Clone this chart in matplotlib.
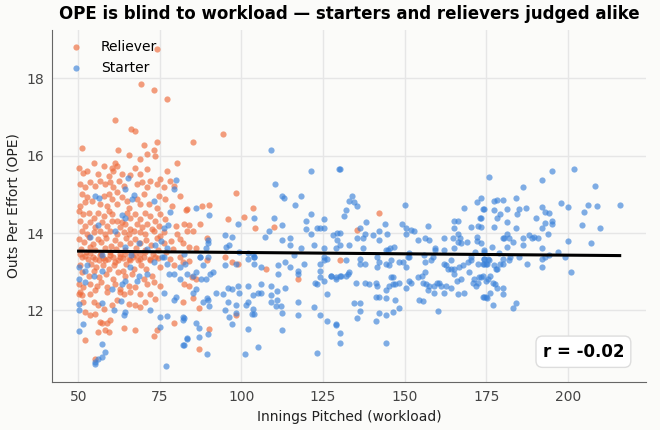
import numpy as np
import matplotlib
matplotlib.use("Agg")
import matplotlib.pyplot as plt

# (innings pitched, OPE)
relievers = [
    (74.2, 18.75), (69.3, 17.85), (73.3, 17.7), (77.3, 17.46), (61.3, 16.92), (66.3, 16.69),
    (67.5, 16.64), (70.2, 16.28), (74.2, 16.36), (73.3, 16.15), (62.3, 16.15), (51.2, 16.2),
    (94.2, 16.56), (85.3, 16.36), (71.1, 16.04), (73.6, 15.99), (65.4, 16.02), (80.3, 15.8),
    (69.0, 15.91),
    (50.1, 15.69), (52.7, 15.61), (54.7, 15.8), (57.8, 15.74), (60.3, 15.69), (61.3, 15.82),
    (62.0, 15.74), (67.5, 15.69), (71.1, 15.66), (77.2, 15.61), (51.6, 15.56), (59.3, 15.48),
    (60.8, 15.61), (63.4, 15.52), (65.9, 15.5), (69.0, 15.54), (72.1, 15.35), (75.2, 15.39),
    (78.2, 15.35), (56.2, 15.52),
    (50.6, 15.26), (52.1, 15.18), (53.7, 15.31), (55.2, 15.22), (56.7, 15.35), (58.3, 15.26),
    (59.8, 15.31), (60.8, 15.18), (62.4, 15.35), (63.9, 15.22), (68.0, 15.26), (69.5, 15.31),
    (71.1, 15.18), (74.1, 15.26), (76.2, 15.18), (79.2, 15.22), (51.1, 15.01), (52.7, 14.92),
    (54.2, 14.83), (57.8, 14.96), (59.3, 15.01), (60.3, 14.88), (61.9, 15.05), (63.4, 14.92),
    (64.9, 14.83), (68.0, 14.88), (70.0, 15.01), (71.6, 14.75), (74.6, 14.96), (76.7, 14.88),
    (81.3, 14.96), (83.3, 14.62), (50.6, 14.71), (52.1, 14.79), (56.7, 14.75), (58.8, 14.71),
    (61.9, 14.75), (65.4, 14.66), (69.0, 14.75), (74.1, 14.66), (78.7, 14.71),
    (50.1, 14.58), (51.6, 14.49), (53.2, 14.53), (54.7, 14.4), (56.2, 14.53), (57.8, 14.45),
    (59.3, 14.58), (60.3, 14.49), (61.9, 14.32), (63.4, 14.28), (64.9, 14.53), (66.0, 14.4),
    (67.5, 14.49), (69.0, 14.36), (70.6, 14.53), (72.1, 14.45), (73.6, 14.32), (75.2, 14.49),
    (76.7, 14.36), (50.6, 14.32), (52.1, 14.19), (53.7, 14.28), (55.2, 14.15), (57.3, 14.28),
    (58.8, 14.19), (60.3, 14.32), (62.9, 14.15), (64.4, 14.23), (66.0, 14.1), (68.0, 14.23),
    (69.5, 14.15), (71.1, 14.23), (72.6, 14.1), (74.6, 14.19), (76.2, 14.02), (79.8, 14.19),
    (82.3, 14.23), (51.1, 14.06), (52.7, 13.97), (54.7, 14.02), (56.7, 14.06), (58.3, 13.97),
    (59.8, 14.06), (61.9, 13.97), (63.9, 14.02), (65.4, 13.97), (67.0, 14.06), (69.0, 14.02),
    (70.6, 13.97), (73.1, 14.06), (75.2, 13.93), (80.3, 13.97), (83.3, 14.06),
    (50.3, 13.85), (51.8, 13.76), (53.2, 13.89), (54.5, 13.72), (55.9, 13.84), (57.1, 13.77),
    (58.6, 13.86), (59.9, 13.67), (61.2, 13.81), (62.7, 13.71), (64.5, 13.87), (65.8, 13.75),
    (67.3, 13.84), (68.9, 13.73), (70.7, 13.81), (72.3, 13.7), (74.0, 13.86), (76.4, 13.75),
    (78.5, 13.8), (81.3, 13.85),
    (50.8, 13.59), (52.3, 13.51), (53.5, 13.64), (55.0, 13.55), (56.9, 13.47), (58.1, 13.6),
    (59.6, 13.52), (61.5, 13.58), (62.8, 13.45), (64.2, 13.56), (66.2, 13.49), (67.7, 13.6),
    (68.8, 13.46), (70.4, 13.55), (72.8, 13.47), (74.4, 13.56), (76.9, 13.51), (79.0, 13.59),
    (83.8, 13.63),
    (51.3, 13.37), (52.9, 13.32), (54.4, 13.38), (56.4, 13.3), (57.6, 13.36), (59.1, 13.34),
    (60.6, 13.38), (62.2, 13.29), (63.7, 13.36), (65.6, 13.33), (66.8, 13.38), (68.3, 13.31),
    (70.2, 13.37), (71.9, 13.32), (74.3, 13.36), (78.0, 13.33), (81.1, 13.37),
    (50.6, 13.46), (52.1, 13.4), (53.7, 13.48), (55.2, 13.33), (56.7, 13.44), (58.3, 13.29),
    (59.8, 13.42), (61.3, 13.25), (62.9, 13.39), (64.4, 13.46), (66.0, 13.29), (67.5, 13.42),
    (69.0, 13.33), (70.6, 13.5), (72.1, 13.29), (73.6, 13.37),
    (50.4, 13.16), (53.9, 13.2), (55.5, 13.12), (57.6, 13.16), (59.5, 13.07), (61.1, 13.16),
    (63.6, 13.03), (64.7, 13.2), (67.2, 13.07), (69.2, 13.16), (70.9, 13.07), (75.0, 13.12),
    (79.2, 13.16), (51.1, 12.99), (53.2, 12.9), (54.9, 13.03), (56.5, 12.86), (58.6, 12.94),
    (60.5, 12.82), (62.1, 12.99), (64.2, 12.9), (66.5, 12.94), (70.0, 12.82), (72.6, 12.9),
    (50.1, 12.69), (51.6, 12.6), (53.5, 12.69), (55.7, 12.64), (57.1, 12.73), (58.8, 12.6),
    (61.3, 12.69), (62.7, 12.56), (65.4, 12.64), (67.5, 12.6), (71.1, 12.69), (73.1, 12.73),
    (75.2, 12.64), (82.3, 12.69), (50.6, 12.47), (55.2, 12.52), (58.8, 12.47), (62.9, 12.47),
    (66.0, 12.47), (69.0, 12.43),
    (50.1, 12.43), (51.1, 12.4), (51.6, 12.21), (53.7, 12.43), (54.7, 12.21), (56.2, 12.13),
    (57.8, 12.04), (60.3, 12.13), (61.9, 12.26), (63.9, 12.43), (65.4, 12.17), (67.5, 12.13),
    (69.0, 12.09), (70.6, 12.21), (72.1, 12.43), (73.6, 12.3), (52.1, 11.96), (53.7, 11.87),
    (55.2, 11.91), (56.7, 11.7), (58.8, 11.66), (59.8, 11.74), (56.2, 11.44), (57.3, 11.67),
    (58.3, 11.48), (59.3, 11.44), (63.9, 11.53), (67.5, 11.48), (74.1, 11.48), (73.1, 11.33),
    (79.2, 11.66), (52.1, 11.23), (55.0, 10.74),
    (98.2, 15.04), (83.1, 14.6), (88.0, 14.7), (90.2, 14.73), (103.4, 14.65), (96.0, 14.35),
    (100.9, 14.42), (84.0, 14.2), (87.4, 14.24), (104.3, 14.14), (110.1, 14.16), (85.3, 14.06),
    (89.3, 13.88), (82.2, 13.73), (86.2, 13.62), (82.2, 13.24), (84.0, 13.27), (89.3, 13.31),
    (95.1, 13.37), (97.2, 13.24), (99.1, 13.21), (107.4, 13.08), (117.2, 12.82), (84.7, 12.85),
    (86.0, 12.82), (84.0, 12.64), (85.3, 12.31), (82.2, 12.21), (87.1, 12.05), (98.2, 11.87),
    (90.2, 11.51), (87.1, 11.0), (142.0, 14.53), (135.3, 14.09), (130.1, 13.29),
]

starters = [
    # 50-90 innings, mixed in with the relievers
    (65.1, 15.42), (80.1, 15.37), (79.2, 15.14), (55.2, 14.96), (56.5, 14.9), (64.2, 15.14),
    (67.2, 14.99), (66.5, 14.88), (73.3, 14.84), (78.2, 14.55), (63.4, 14.47), (64.2, 14.39),
    (56.2, 14.21), (61.3, 14.06), (53.5, 13.89), (68.5, 13.73), (71.1, 13.59), (73.6, 13.68),
    (75.4, 13.79), (76.4, 14.13), (77.4, 14.22), (77.2, 13.62), (82.3, 13.46), (64.4, 13.63),
    (57.3, 13.42), (66.2, 13.42), (75.7, 13.39),
    (50.1, 13.12), (52.1, 13.03), (52.7, 13.16), (50.1, 12.82), (52.1, 12.73), (54.7, 12.9),
    (57.3, 13.03), (60.3, 12.56), (63.4, 12.69), (64.4, 12.77), (66.0, 13.12), (68.5, 12.9),
    (68.0, 12.77), (71.1, 12.95), (73.1, 13.24), (76.2, 13.37), (77.2, 13.2), (77.7, 12.95),
    (79.2, 12.95), (82.8, 13.2),
    (50.1, 12.0), (50.1, 11.46), (51.4, 11.64), (57.3, 11.12), (58.3, 10.93), (57.3, 10.78),
    (55.2, 10.67), (55.2, 10.61), (56.2, 10.73), (77.0, 10.56), (82.3, 11.1), (83.3, 11.27),
    (75.2, 11.57), (77.2, 11.85), (75.2, 11.83), (82.3, 11.79), (79.2, 12.26), (79.8, 12.34),
    (76.2, 12.45), (72.1, 12.0), (63.9, 11.87), (64.4, 11.96), (61.0, 12.0), (63.2, 12.24),
    (57.3, 12.19), (50.1, 12.17),
    # 80-130 innings
    (109.2, 16.15), (121.2, 15.6), (129.8, 15.66), (110.4, 15.27), (112.3, 14.96), (112.9, 14.91),
    (118.1, 14.96), (116.3, 14.73), (86.2, 14.65), (90.2, 14.47), (121.2, 14.5), (104.0, 14.4),
    (110.1, 14.4), (119.9, 14.32), (125.2, 14.35), (99.1, 14.24), (112.3, 14.2), (108.3, 14.06),
    (119.9, 14.11), (121.2, 13.98), (123.3, 14.14), (124.2, 14.14), (125.2, 14.14), (95.1, 13.96),
    (97.2, 13.91), (107.1, 13.91), (112.3, 13.83), (115.0, 13.88), (128.2, 13.96), (129.4, 14.01),
    (89.9, 13.83), (89.9, 13.73), (95.4, 13.65), (96.3, 13.68), (115.0, 13.68), (118.1, 13.62),
    (122.1, 13.68), (125.2, 13.62), (129.1, 13.6), (89.0, 13.6), (99.4, 13.52), (102.1, 13.49),
    (103.4, 13.47), (104.0, 13.39), (87.4, 13.37), (116.0, 13.42), (125.2, 13.37),
    (81.3, 13.11), (81.3, 12.82), (88.3, 13.16), (89.9, 13.37), (87.4, 13.37), (95.1, 13.16),
    (98.2, 13.19), (102.1, 13.34), (103.7, 13.39), (104.0, 13.21), (106.1, 13.13), (111.3, 13.16),
    (113.2, 13.24), (115.0, 13.13), (111.3, 12.95), (117.2, 13.03), (117.2, 12.95), (119.3, 13.21),
    (124.2, 13.21), (125.2, 13.29), (126.1, 13.34), (124.2, 13.03), (124.2, 12.85), (125.2, 12.77),
    (127.3, 12.88), (129.1, 12.85), (130.1, 12.9), (122.4, 12.7), (123.3, 12.67),
    (83.4, 12.93), (85.3, 12.88), (86.2, 12.98), (87.7, 12.8), (89.0, 12.82), (90.5, 12.95),
    (91.4, 13.0), (85.3, 12.46), (86.2, 12.54), (88.3, 12.21), (89.3, 12.31), (89.9, 12.26),
    (90.2, 12.1), (92.3, 12.44), (94.2, 12.41), (96.0, 12.59), (97.2, 12.54), (99.4, 12.44),
    (99.1, 12.64), (96.0, 12.21), (95.1, 12.0), (98.2, 12.13), (98.2, 11.92), (96.3, 11.82),
    (97.2, 11.64), (102.1, 12.62), (103.4, 12.39), (105.2, 12.46), (106.1, 12.67), (106.1, 12.44),
    (102.1, 12.21), (101.5, 12.15), (103.4, 12.03), (103.1, 11.9), (104.0, 11.9), (102.1, 11.51),
    (105.2, 11.05), (101.2, 10.87), (109.2, 12.64), (109.2, 12.39), (109.2, 12.21), (111.0, 12.49),
    (111.0, 12.26), (112.0, 12.1), (110.7, 12.1), (112.3, 11.92), (113.2, 12.59), (112.3, 11.48),
    (117.2, 12.21), (117.2, 11.87), (122.1, 12.08), (124.2, 11.87), (126.1, 12.41), (126.1, 11.72),
    (129.1, 11.61), (123.3, 10.89), (130.1, 11.41), (82.2, 11.82), (82.2, 11.74), (86.2, 11.66),
    (87.1, 11.54), (83.4, 11.28), (82.2, 11.1), (87.1, 11.3), (89.9, 11.38), (89.3, 10.87),
    # 130-175 innings
    (130.1, 15.66), (175.8, 15.45), (134.0, 14.96), (133.1, 14.84), (134.4, 14.81), (135.3, 14.71),
    (131.9, 14.6), (131.3, 14.45), (150.0, 14.73), (168.1, 14.65), (172.1, 14.81), (173.3, 14.91),
    (173.9, 14.63), (173.0, 14.4), (172.4, 14.19), (172.1, 13.91), (138.3, 14.29), (136.2, 14.14),
    (138.0, 13.98), (137.1, 13.88), (135.3, 13.88), (140.2, 13.96), (142.0, 14.06), (143.9, 14.24),
    (144.5, 13.98), (142.0, 13.83), (133.1, 13.7), (129.4, 13.83), (130.1, 14.01), (137.1, 13.6),
    (130.1, 13.68), (149.1, 14.24), (150.3, 14.14), (150.3, 13.98), (152.1, 14.09), (152.8, 14.04),
    (154.0, 13.83), (156.1, 13.86), (157.4, 13.83), (157.1, 14.19), (159.2, 13.62), (159.2, 13.55),
    (162.0, 13.88), (164.7, 13.88), (165.0, 14.14), (166.3, 14.32), (165.0, 14.32), (166.3, 13.98),
    (166.9, 13.88), (166.3, 13.78), (167.2, 13.73), (169.0, 13.78), (170.2, 14.16), (172.1, 13.8),
    (171.5, 13.52), (174.2, 13.52), (165.0, 13.62), (162.0, 13.55), (146.6, 13.65), (145.4, 13.6),
    (144.8, 13.57), (144.2, 13.55), (151.2, 13.49), (150.9, 13.37), (155.8, 13.42), (158.6, 13.37),
    (170.2, 13.37), (174.2, 13.34),
    (142.3, 13.24), (131.9, 13.31), (136.2, 13.34), (136.2, 13.21), (138.0, 13.19), (141.4, 13.37),
    (141.4, 13.11), (144.2, 13.21), (145.1, 13.16), (145.7, 13.29), (148.2, 13.24), (149.4, 13.24),
    (150.3, 13.11), (151.2, 13.37), (156.1, 13.24), (158.0, 13.29), (162.0, 13.21), (162.6, 13.16),
    (164.1, 13.29), (165.0, 13.08), (166.6, 13.11), (167.8, 13.16), (169.3, 13.24), (170.2, 13.29),
    (172.4, 13.21), (173.9, 13.21), (174.8, 13.21), (175.5, 13.34), (164.1, 13.08), (163.2, 13.08),
    (127.3, 12.88), (129.1, 12.82), (130.4, 12.88), (131.9, 12.9), (132.8, 12.93), (133.1, 13.0),
    (135.0, 12.72), (138.0, 12.7), (139.0, 12.67), (141.1, 12.72), (141.4, 12.64), (144.2, 12.52),
    (145.1, 12.62), (146.3, 12.67), (147.2, 12.67), (148.2, 12.7), (145.7, 12.85), (146.3, 12.85),
    (150.3, 12.57), (151.2, 12.75), (152.1, 12.7), (154.0, 12.85), (155.2, 12.88), (155.5, 12.7),
    (156.1, 12.98), (156.4, 12.67), (157.1, 12.52), (157.4, 12.62), (158.9, 12.64), (159.8, 12.72),
    (160.4, 12.7), (161.0, 12.62), (162.0, 12.44), (162.6, 12.64), (164.1, 12.59), (165.0, 12.93),
    (165.9, 12.77), (167.2, 12.82), (169.6, 12.98), (170.9, 12.72), (171.2, 12.8), (171.8, 12.64),
    (172.4, 12.7), (172.7, 12.85), (173.9, 12.9), (174.8, 12.75), (175.5, 12.82), (176.1, 12.88),
    (166.3, 12.41), (168.1, 12.44), (158.9, 12.44),
    (134.4, 12.18), (136.2, 12.18), (136.2, 11.97), (135.3, 11.79), (141.1, 11.72), (142.0, 11.92),
    (144.2, 11.87), (146.3, 11.95), (148.2, 12.05), (144.2, 12.31), (147.2, 12.28), (141.1, 12.34),
    (142.0, 12.34), (154.3, 12.26), (155.5, 12.23), (160.1, 11.97), (129.1, 11.64), (130.1, 11.15),
    (144.2, 11.15), (174.2, 12.34), (175.2, 12.31),
    # 175-216 innings
    (195.1, 15.61), (201.8, 15.66), (192.0, 15.38), (186.2, 15.2), (208.3, 15.22), (184.0, 14.91),
    (177.3, 14.84), (178.2, 14.86), (180.1, 14.86), (197.9, 14.78), (200.0, 14.68), (206.1, 14.73),
    (208.9, 14.71), (215.9, 14.73), (174.2, 14.63), (177.3, 14.6), (181.3, 14.63), (184.9, 14.63),
    (187.1, 14.65), (192.0, 14.68), (192.9, 14.55), (194.2, 14.53), (204.9, 14.55), (179.1, 14.5),
    (178.2, 14.4), (184.3, 14.5), (190.2, 14.4), (192.9, 14.27), (195.1, 14.32), (195.1, 14.24),
    (204.3, 14.22), (209.8, 14.14), (177.3, 14.16), (181.3, 14.29), (184.0, 14.14), (192.0, 14.14),
    (173.3, 14.4), (173.3, 14.16), (181.3, 13.98), (180.1, 13.86), (180.4, 13.86), (181.9, 13.86),
    (183.1, 13.78), (186.2, 13.86), (186.2, 13.7), (188.0, 13.96), (189.6, 13.91), (189.0, 13.86),
    (190.8, 13.88), (193.9, 13.98), (200.0, 13.8), (207.1, 13.73), (192.0, 13.62), (196.9, 13.52),
    (176.7, 13.65), (178.8, 13.49), (181.3, 13.65), (173.3, 13.73), (174.2, 13.57),
    (174.2, 13.21), (175.2, 13.21), (174.2, 13.34), (175.8, 13.29), (177.3, 13.16), (177.9, 13.08),
    (178.2, 13.08), (179.1, 13.19), (180.1, 13.21), (180.1, 13.34), (181.9, 13.31), (182.2, 13.37),
    (184.9, 13.39), (187.4, 13.21), (192.0, 13.11), (192.0, 13.34), (192.9, 13.37), (194.2, 13.42),
    (199.1, 13.37), (200.9, 12.98), (173.3, 12.85), (177.0, 12.72), (177.6, 12.67), (178.2, 12.59),
    (176.1, 12.46), (174.8, 12.34), (173.9, 12.34), (180.1, 12.57), (180.1, 12.41), (177.0, 12.15),
    (183.1, 12.05), (184.0, 12.18),
]

# correlation as printed on the reference
r_value = -0.02

rel_ip, rel_ope = np.array(relievers).T
st_ip, st_ope = np.array(starters).T

# least-squares line over everyone
all_ip = np.concatenate([rel_ip, st_ip])
all_ope = np.concatenate([rel_ope, st_ope])
slope, intercept = np.polyfit(all_ip, all_ope, 1)
line_x = np.array([all_ip.min(), all_ip.max()])

bg = "#fbfbf9"
fig = plt.figure(figsize=(6.6, 4.3), dpi=100, facecolor=bg)
ax = fig.add_axes([0.079, 0.112, 0.9, 0.818], facecolor=bg)

ax.scatter(rel_ip, rel_ope, s=20, color="#ee6a3a", alpha=0.65, linewidths=0, label="Reliever", zorder=2)
ax.scatter(st_ip, st_ope, s=20, color="#3b82d9", alpha=0.65, linewidths=0, label="Starter", zorder=2)
ax.plot(line_x, intercept + slope * line_x, color="black", lw=2.2, zorder=3)

ax.set_xlim(42, 224)
ax.set_ylim(10.15, 19.25)
ax.set_xticks([50, 75, 100, 125, 150, 175, 200])
ax.set_yticks([12, 14, 16, 18])
ax.grid(True, color="#e6e6e6", lw=1)
ax.set_axisbelow(True)
for side in ["top", "right"]:
    ax.spines[side].set_visible(False)
for side in ["left", "bottom"]:
    ax.spines[side].set_color("#666666")
ax.tick_params(length=0, labelsize=10, colors="#444444", pad=6)

ax.set_xlabel("Innings Pitched (workload)", fontsize=10, color="#222222")
ax.set_ylabel("Outs Per Effort (OPE)", fontsize=10, color="#222222")
ax.set_title("OPE is blind to workload \u2014 starters and relievers judged alike",
             fontsize=12, fontweight="bold", pad=8)

ax.legend(loc="upper left", frameon=False, fontsize=10, handletextpad=0.8,
          borderaxespad=0.3)

ax.text(0.963, 0.06, f"r = {r_value:.2f}", transform=ax.transAxes, ha="right", va="bottom",
        fontsize=12, fontweight="bold",
        bbox=dict(boxstyle="round,pad=0.4", facecolor="white", edgecolor="#dddddd"))

fig.savefig("out.png", dpi=100, facecolor=bg)
